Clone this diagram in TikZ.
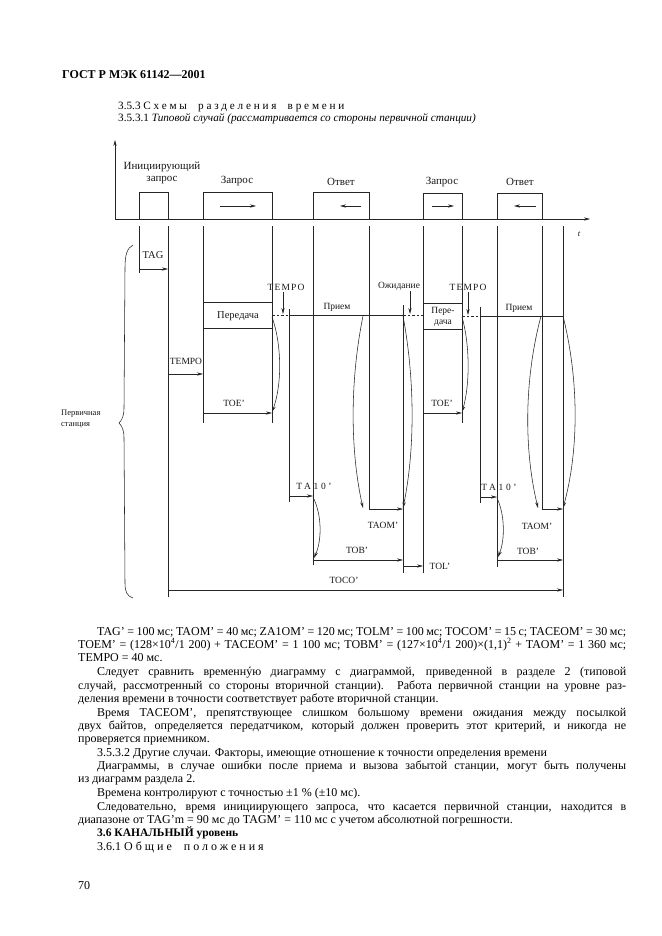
\documentclass[tikz,border=0pt]{standalone}
\usepackage{fontspec}
\setmainfont{Liberation Serif}
\usetikzlibrary{arrows.meta}
\newcommand{\spc}[2]{{\addfontfeature{LetterSpace=#1}#2}}
\newcommand{\jline}[2]{\makebox[#1pt][s]{#2}}
\begin{document}
\begin{tikzpicture}[x=1pt,y=-1pt,
  ln/.style={line width=0.55pt,draw=black!85},
  arr/.style={ln,-{Stealth[length=6pt,width=3.2pt]}},
  dsh/.style={ln,dash pattern=on 2.5pt off 2pt},
  lbl/.style={font=\fontsize{9.5}{10.5}\selectfont,inner sep=0pt,text=black!90},
  big/.style={lbl,font=\fontsize{11}{12}\selectfont},
  mid/.style={lbl,font=\fontsize{10.5}{11.5}\selectfont},
  body/.style={font=\fontsize{12}{13}\selectfont,inner sep=0pt,anchor=base west},
]
\useasboundingbox[fill=white] (0,0) rectangle (661,936);

% ---------- header ----------
\node[inner sep=0pt,anchor=base west,font=\fontsize{12}{14}\selectfont\bfseries] (hdr) at (62,79) {ГОСТ Р МЭК 61142—2001};
\node[body,font=\fontsize{11.2}{12}\selectfont] (s353) at (118,110) {3.5.3 \spc{25}{Схемы\ \ разделения\ \ времени}};
\node[body,font=\fontsize{11.2}{12}\selectfont] (s3531) at (118,122) {3.5.3.1 \textit{Типовой случай (рассматривается со стороны первичной станции)}};

% ---------- axes ----------
\draw[arr] (115,219) -- (115,140);
\draw[arr] (115,219) -- (590,219);
\node[lbl,font=\fontsize{8.5}{9}\selectfont\itshape] (t) at (579,234) {t};

% pulses
\draw[ln] (139,219) -- (139,192) -- (168,192) -- (168,219);
\draw[ln] (203,219) -- (203,192) -- (272,192) -- (272,219);
\draw[ln] (313,219) -- (313,192) -- (369,192) -- (369,219);
\draw[ln] (423,219) -- (423,193) -- (462,193) -- (462,219);
\draw[ln] (497,219) -- (497,193) -- (542,193) -- (542,219);
\draw[arr] (220,206) -- (256,206);
\draw[arr] (361,206) -- (340,206);
\draw[arr] (432,206) -- (454,206);
\draw[arr] (536,206) -- (514,206);

\node[big,align=center] (ini) at (162,173) {Инициирующий\\[0pt]запрос};
\node[big] (z1) at (237,181) {Запрос};
\node[big] (o1) at (341,182) {Ответ};
\node[big] (z2) at (442,182) {Запрос};
\node[big] (o2) at (520,182) {Ответ};

% ---------- vertical time lines ----------
\draw[ln] (139,226) -- (139,273);
\draw[ln] (168,226) -- (168,597);
\draw[ln] (203,226) -- (203,423);
\draw[ln] (272,226) -- (272,423);
\draw[ln] (313,226) -- (313,565);
\draw[ln] (369,226) -- (369,510);
\draw[ln] (423,226) -- (423,573);
\draw[ln] (462,226) -- (462,423);
\draw[ln] (497,226) -- (497,567);
\draw[ln] (542,226) -- (542,510);
\draw[ln] (563,226) -- (563,597);
\draw[ln] (289,309) -- (289,502);
\draw[ln] (403,305) -- (403,573);
\draw[ln] (480,307) -- (480,503);

% transmit boxes
\draw[ln] (203,302) -- (272,302);
\draw[ln] (203,328) -- (272,328);
\draw[ln] (423,303) -- (462,303);
\draw[ln] (423,329) -- (462,329);

% receive lines
\draw[dsh] (272,315) -- (289,315);
\draw[ln] (289,315) -- (403,315);
\draw[dsh] (403,315) -- (423,315);
\draw[dsh] (462,316) -- (480,316);
\draw[ln] (480,316) -- (563,316);

% ---------- horizontal arrows ----------
\draw[arr] (139,269) -- (168,269);
\draw[arr] (168,374) -- (203,374);
\draw[arr] (203,413) -- (272,413);
\draw[arr] (283,292) -- (283,314);
\draw[arr] (410,291) -- (410,314);
\draw[arr] (468,292) -- (468,315);
\draw[arr] (423,413) -- (462,413);
\draw[arr] (289,496) -- (313,496);
\draw[arr] (369,509) -- (403,509);
\draw[arr] (313,560) -- (403,560);
\draw[arr] (403,566) -- (423,566);
\draw[arr] (168,590) -- (563,590);
\draw[arr] (480,497) -- (497,497);
\draw[arr] (542,509) -- (563,509);
\draw[arr] (497,560) -- (563,560);

% ---------- curved arrows ----------
\draw[arr] (272,317) .. controls (282,345) and (282,385) .. (272,412);
\draw[arr] (363,316) .. controls (350,380) and (350,450) .. (363,508);
\draw[arr] (403,316) .. controls (415,380) and (415,450) .. (403,508);
\draw[arr] (313,497) .. controls (322,515) and (322,540) .. (314,558);
\draw[arr] (462,317) .. controls (470,345) and (470,385) .. (462,412);
\draw[arr] (541,316) .. controls (524,380) and (524,450) .. (538,508);
\draw[arr] (563,316) .. controls (579,380) and (579,450) .. (563,508);
\draw[arr] (497,498) .. controls (505,515) and (505,540) .. (498,557);

% ---------- diagram labels ----------
\node[mid] (ltag) at (153,255) {TAG};
\node[lbl] (ltempo) at (186,361) {TEMPO};
\node[mid] (lper1) at (238,316) {Передача};
\node[lbl] (ltoe1) at (234,403) {TOE'};
\node[lbl] (ltoe2) at (442,403) {TOE'};
\node[lbl] (ltempo1) at (286,287) {\spc{12}{TEMPO}};
\node[lbl] (ltempo2) at (468,287) {\spc{12}{TEMPO}};
\node[lbl] (lpr1) at (337,307) {Прием};
\node[lbl] (lpr2) at (519,308) {Прием};
\node[lbl] (lwait) at (399,286) {Ожидание};
\node[lbl,align=center] (lper2) at (443,317) {Пере-\\дача};
\node[lbl] (lta1) at (314,486) {\spc{28}{TA10'}};
\node[lbl] (lta2) at (499,487) {\spc{28}{TA10'}};
\node[lbl] (ltaom1) at (383,525) {TAOM'};
\node[lbl] (ltaom2) at (537,526) {TAOM'};
\node[lbl] (ltob1) at (357,550) {TOB'};
\node[lbl] (ltob2) at (528,551) {TOB'};
\node[lbl] (ltol) at (440,566) {TOL'};
\node[lbl] (ltoco) at (344,580) {TOCO'};
\node[lbl,font=\fontsize{8.5}{9.5}\selectfont,align=left,anchor=west] (lprim) at (61,419) {Первичная\\[1pt]станция};

% brace
\draw[ln] (133,245) .. controls (127,248) and (125,255) .. (125,268) -- (124,408)
  .. controls (124,416) and (122,420) .. (119,423)
  .. controls (122,426) and (124,430) .. (124,438) -- (125,583)
  .. controls (125,592) and (127,596) .. (133,598);

% ---------- body text ----------
\node[body] (b1) at (97,635) {\jline{529}{TAG' = 100 мс; TAOM' = 40 мс; ZA1OM' = 120 мс; TOLM' = 100 мс; TOCOM' = 15 с; TACEOM' = 30 мс;}};
\node[body] (b2) at (78,648) {\jline{548}{TOEM' = (128×10\textsuperscript{4}/1~200) + TACEOM' = 1~100 мс; TOBM' = (127×10\textsuperscript{4}/1~200)×(1,1)\textsuperscript{2} + TAOM' = 1~360 мс;}};
\node[body] (b3) at (78,661) {TEMPO = 40 мс.};
\node[body] (b4) at (97,675) {\jline{529}{Следует сравнить временнýю диаграмму с диаграммой, приведенной в разделе 2 (типовой}};
\node[body] (b5) at (78,689) {\jline{548}{случай, рассмотренный со стороны вторичной станции). Работа первичной станции на уровне раз-}};
\node[body] (b6) at (78,702) {деления времени в точности соответствует работе вторичной станции.};
\node[body] (b7) at (97,716) {\jline{529}{Время TACEOM', препятствующее слишком большому времени ожидания между посылкой}};
\node[body] (b8) at (78,729) {\jline{548}{двух байтов, определяется передатчиком, который должен проверить этот критерий, и никогда не}};
\node[body] (b9) at (78,742) {проверяется приемником.};
\node[body] (b10) at (97,756) {3.5.3.2 Другие случаи. Факторы, имеющие отношение к точности определения времени};
\node[body] (b11) at (97,769) {\jline{529}{Диаграммы, в случае ошибки после приема и вызова забытой станции, могут быть получены}};
\node[body] (b12) at (78,782) {из диаграмм раздела 2.};
\node[body] (b13) at (97,796) {Времена контролируют с точностью ±1 \% (±10 мс).};
\node[body] (b14) at (97,810) {\jline{529}{Следовательно, время инициирующего запроса, что касается первичной станции, находится в}};
\node[body] (b15) at (78,823) {диапазоне от TAG'm = 90 мс до TAGM' = 110 мс с учетом абсолютной погрешности.};
\node[body,font=\fontsize{11.5}{12}\selectfont\bfseries] (b16) at (97,836) {3.6 КАНАЛЬНЫЙ уровень};
\node[body] (b17) at (97,850) {3.6.1 \spc{25}{Общие\ \ положения}};
\node[body] (b18) at (78,889) {70};
\end{tikzpicture}
\end{document}
